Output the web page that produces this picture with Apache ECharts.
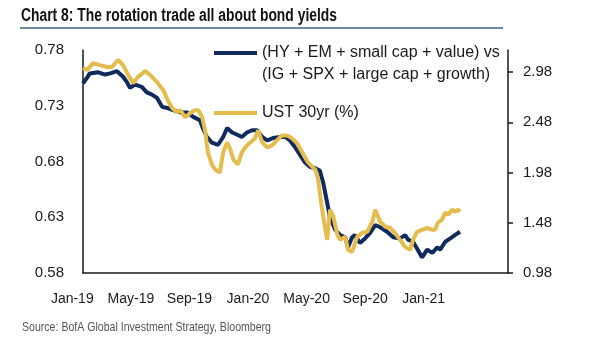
<!DOCTYPE html>
<html><head><meta charset="utf-8">
<script src="https://cdn.jsdelivr.net/npm/echarts@6/dist/echarts.min.js"></script>
<style>html,body{margin:0;padding:0;background:#fff}#c{width:605px;height:341px}</style>
</head><body><div id="c"></div>
<script>
var titleText = 'Chart 8: The rotation trade all about bond yields';
var sourceText = 'Source: BofA Global Investment Strategy, Bloomberg';
var ratioName = '(HY + EM + small cap + value) vs\n(IG + SPX + large cap + growth)';
var yieldName = 'UST 30yr (%)';
var xLabels = ['Jan-19','May-19','Sep-19','Jan-20','May-20','Sep-20','Jan-21'];
var leftTicks = [0.58,0.63,0.68,0.73,0.78];
var rightTicks = [0.98,1.48,1.98,2.48,2.98];
var xStart = '2019-01-02', xEnd = '2021-01-23';

var ratioDates = ['2019-01-02','2019-01-09','2019-01-14','2019-01-29','2019-02-10','2019-02-19','2019-03-03','2019-03-14','2019-03-21','2019-03-26','2019-04-04','2019-04-16','2019-04-25','2019-05-04','2019-05-13','2019-05-22','2019-05-31','2019-06-10','2019-06-23','2019-07-05','2019-07-16','2019-07-28','2019-08-02','2019-08-09','2019-08-18','2019-08-29','2019-09-07','2019-09-14','2019-09-23','2019-10-02','2019-10-10','2019-10-19','2019-10-28','2019-11-06','2019-11-15','2019-11-24','2019-12-04','2019-12-17','2019-12-26','2020-01-03','2020-01-12','2020-01-21','2020-01-30','2020-02-08','2020-02-17','2020-02-25','2020-03-02','2020-03-09','2020-03-14','2020-03-23','2020-04-01','2020-04-10','2020-04-15','2020-04-22','2020-04-27','2020-05-06','2020-05-15','2020-05-24','2020-06-02','2020-06-11','2020-06-23','2020-07-04','2020-07-16','2020-07-25','2020-07-30','2020-08-08','2020-08-15','2020-08-24','2020-09-02','2020-09-11','2020-09-20','2020-09-25','2020-10-04','2020-10-13','2020-10-21','2020-10-30'];
var ratioValues = [0.750,0.755,0.759,0.760,0.758,0.759,0.761,0.756,0.751,0.746,0.749,0.747,0.742,0.740,0.737,0.729,0.728,0.726,0.724,0.724,0.720,0.717,0.710,0.702,0.697,0.695,0.702,0.710,0.706,0.704,0.702,0.706,0.708,0.708,0.702,0.699,0.701,0.702,0.702,0.699,0.693,0.686,0.679,0.675,0.674,0.672,0.661,0.643,0.630,0.619,0.614,0.612,0.603,0.612,0.614,0.607,0.611,0.616,0.623,0.621,0.617,0.612,0.611,0.614,0.610,0.608,0.602,0.594,0.601,0.598,0.603,0.601,0.608,0.611,0.614,0.617];

var yieldDates = ['2019-01-02','2019-01-09','2019-01-20','2019-02-01','2019-02-14','2019-02-22','2019-03-05','2019-03-14','2019-03-23','2019-04-01','2019-04-09','2019-04-22','2019-05-01','2019-05-13','2019-05-24','2019-06-01','2019-06-09','2019-06-17','2019-06-23','2019-07-02','2019-07-10','2019-07-19','2019-07-25','2019-08-01','2019-08-06','2019-08-11','2019-08-18','2019-08-24','2019-09-01','2019-09-07','2019-09-14','2019-09-19','2019-09-25','2019-10-03','2019-10-10','2019-10-16','2019-10-25','2019-11-02','2019-11-08','2019-11-15','2019-11-24','2019-12-03','2019-12-11','2019-12-20','2019-12-29','2020-01-07','2020-01-16','2020-01-25','2020-02-03','2020-02-11','2020-02-17','2020-02-22','2020-02-25','2020-03-02','2020-03-09','2020-03-14','2020-03-20','2020-03-27','2020-04-01','2020-04-10','2020-04-15','2020-04-22','2020-05-01','2020-05-10','2020-05-19','2020-05-28','2020-06-02','2020-06-11','2020-06-20','2020-06-28','2020-07-07','2020-07-16','2020-07-25','2020-08-03','2020-08-08','2020-08-15','2020-08-24','2020-09-02','2020-09-11','2020-09-16','2020-09-21','2020-09-28','2020-10-04','2020-10-09','2020-10-16','2020-10-21','2020-10-27','2020-10-30'];
var yieldValues = [3.02,3.00,3.07,3.05,3.03,3.03,3.10,3.05,2.95,2.87,2.93,2.99,2.95,2.88,2.80,2.70,2.62,2.58,2.60,2.53,2.57,2.60,2.60,2.53,2.40,2.18,2.06,2.01,1.98,2.18,2.28,2.22,2.11,2.06,2.18,2.23,2.28,2.32,2.40,2.28,2.23,2.25,2.30,2.35,2.35,2.32,2.27,2.18,2.09,2.04,2.01,1.91,1.78,1.54,1.31,1.61,1.54,1.36,1.31,1.34,1.21,1.19,1.34,1.38,1.39,1.49,1.61,1.49,1.44,1.43,1.38,1.31,1.24,1.21,1.31,1.39,1.41,1.43,1.41,1.41,1.48,1.51,1.58,1.56,1.61,1.59,1.61,1.59];

function zip(d, v){ return d.map(function(x,i){ return [x, v[i]]; }); }
function fitScale(text, font, width){
  var ctx = document.createElement('canvas').getContext('2d');
  ctx.font = font;
  return width / ctx.measureText(text).width;
}

var NAVY = '#0f2a5c', GOLD = '#e5bd4f', AXIS = '#1a1a1a';
var labelFont = 'Liberation Sans, Arial, sans-serif';
var titleFont = "bold 18px 'Liberation Sans', Arial, sans-serif";
var sourceFont = "13px 'Liberation Sans', Arial, sans-serif";

var chart = echarts.init(document.getElementById('c'), null, {renderer:'canvas'});
chart.setOption({
  animation: false,
  backgroundColor: '#fff',
  graphic: [
    {type: 'text', x: 21, y: 16, scaleX: fitScale(titleText, titleFont, 316),
     style: {text: titleText, font: titleFont, fill: '#111', align: 'left', verticalAlign: 'middle'}},
    {type: 'line', shape: {x1: 20, y1: 28, x2: 503, y2: 28}, style: {stroke: '#7089a3', lineWidth: 2}},
    {type: 'text', x: 22, y: 327, scaleX: fitScale(sourceText, sourceFont, 249),
     style: {text: sourceText, font: sourceFont, fill: '#555', align: 'left', verticalAlign: 'middle'}}
  ],
  legend: [
    {data: [ratioName], left: 214, top: 20, padding: 0, orient: 'vertical',
     icon: 'rect', itemWidth: 43, itemHeight: 4,
     formatter: function(name){ return ' \n' + name; },
     textStyle: {fontFamily: labelFont, fontSize: 16, color: AXIS, lineHeight: 22}},
    {data: [yieldName], left: 214, top: 102, padding: 0, orient: 'vertical',
     icon: 'rect', itemWidth: 43, itemHeight: 4,
     textStyle: {fontFamily: labelFont, fontSize: 16, color: AXIS, lineHeight: 22}}
  ],
  grid: [
    {left: 83, right: 97, top: 50, bottom: 68},
    {left: 43, width: 410, top: 50, bottom: 68}
  ],
  xAxis: [
    {type: 'time', gridIndex: 0, min: xStart, max: xEnd,
     axisLine: {show: true, lineStyle: {color: AXIS, width: 1.5}},
     axisTick: {show: false}, axisLabel: {show: false}, splitLine: {show: false}},
    {type: 'category', gridIndex: 1, data: xLabels, boundaryGap: true,
     axisLine: {show: false}, axisTick: {show: false}, splitLine: {show: false},
     axisLabel: {fontFamily: labelFont, fontSize: 14, color: AXIS, margin: 19, interval: 0}}
  ],
  yAxis: [
    {type: 'value', gridIndex: 0, position: 'left', min: 0.58, max: 0.78, interval: 0.05,
     axisLine: {show: true, lineStyle: {color: AXIS, width: 1.5}},
     axisTick: {show: false}, splitLine: {show: false},
     axisLabel: {fontFamily: labelFont, fontSize: 15, color: AXIS, margin: 19, customValues: leftTicks,
       formatter: function(v){ return v.toFixed(2); }}},
    {type: 'value', gridIndex: 0, position: 'right', min: 0.98, max: 3.2, interval: 0.5,
     axisLine: {show: true, lineStyle: {color: AXIS, width: 1.5}},
     axisTick: {show: true, length: 5, lineStyle: {color: AXIS, width: 1.5}, customValues: rightTicks},
     splitLine: {show: false},
     axisLabel: {fontFamily: labelFont, fontSize: 15, color: AXIS, margin: 15, customValues: rightTicks,
       formatter: function(v){ return v.toFixed(2); }}},
    {type: 'value', gridIndex: 1, show: false}
  ],
  series: [
    {name: ratioName, type: 'line', xAxisIndex: 0, yAxisIndex: 0, data: zip(ratioDates, ratioValues),
     showSymbol: false, symbol: 'none', lineStyle: {color: NAVY, width: 4}, itemStyle: {color: NAVY}, z: 2},
    {name: yieldName, type: 'line', xAxisIndex: 0, yAxisIndex: 1, data: zip(yieldDates, yieldValues),
     showSymbol: false, symbol: 'none', lineStyle: {color: GOLD, width: 4}, itemStyle: {color: GOLD}, z: 3}
  ]
});
</script></body></html>
